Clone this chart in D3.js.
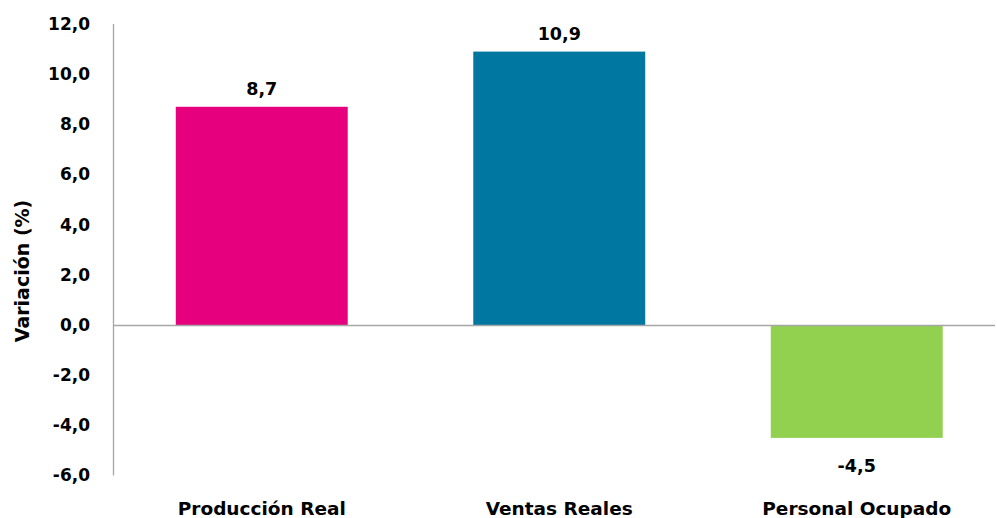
<!DOCTYPE html>
<html><head><meta charset="utf-8">
<script src="https://cdn.jsdelivr.net/npm/d3@7"></script>
<style>
body{margin:0;background:#fff;}
text{font-family:"DejaVu Sans",Verdana,sans-serif;font-weight:bold;fill:#000;}
</style></head>
<body><svg id="c" width="997" height="518"></svg>
<script>
const categories = ["Producción Real","Ventas Reales","Personal Ocupado"];
const values = [8.7, 10.9, -4.5];
const colors = ["#E6007E","#0077A0","#92D050"];
const yTicks = [12,10,8,6,4,2,0,-2,-4,-6];
const yTitle = "Variación (%)";

const svg = d3.select("#c");
const fmt = v => v.toFixed(1).replace(".", ",");
const x = d3.scaleBand().domain(categories).range([113, 1005.5]).paddingInner(0.422).paddingOuter(0.211);
const y = d3.scaleLinear().domain([-6, 12]).range([475.5, 24]);

// y axis line
svg.append("line").attr("x1",113.5).attr("x2",113.5).attr("y1",y(12)).attr("y2",y(-6))
  .attr("stroke","#a6a6a6").attr("stroke-width",1.3);
// tick labels
svg.selectAll(".yt").data(yTicks).enter().append("text")
  .attr("x",90).attr("y",d=>y(d)).attr("dy","0.35em").attr("text-anchor","end")
  .attr("font-size",17).text(fmt);

// bars
svg.selectAll(".bar").data(values).enter().append("rect")
  .attr("x",(d,i)=>x(categories[i])).attr("width",x.bandwidth())
  .attr("y",d=>y(Math.max(0,d))).attr("height",d=>Math.abs(y(d)-y(0)))
  .attr("fill",(d,i)=>colors[i]);

// zero line
svg.append("line").attr("x1",113).attr("x2",995).attr("y1",y(0)+0.5).attr("y2",y(0)+0.5)
  .attr("stroke","#a6a6a6").attr("stroke-width",1.3);

// value labels
svg.selectAll(".vl").data(values).enter().append("text")
  .attr("x",(d,i)=>x(categories[i])+x.bandwidth()/2)
  .attr("y",d=> d>=0 ? y(d)-12 : y(d)+34)
  .attr("text-anchor","middle").attr("font-size",17.5).text(fmt);

// category labels
svg.selectAll(".cl").data(categories).enter().append("text")
  .attr("x",d=>x(d)+x.bandwidth()/2).attr("y",515)
  .attr("text-anchor","middle").attr("font-size",18.5).text(d=>d);

// y title
svg.append("text").attr("transform","translate(29,271) rotate(-90)")
  .attr("text-anchor","middle").attr("font-size",19).text(yTitle);
</script></body></html>
